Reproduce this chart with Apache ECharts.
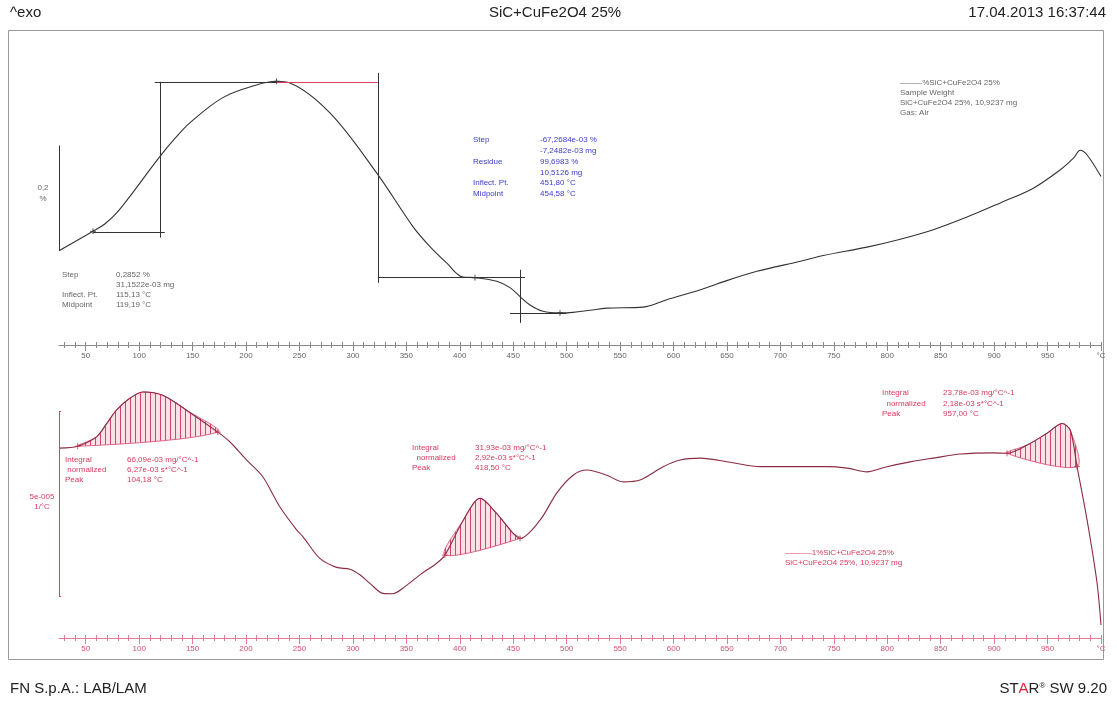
<!DOCTYPE html>
<html>
<head>
<meta charset="utf-8">
<title>SiC+CuFe2O4 25%</title>
<script src="https://cdn.jsdelivr.net/npm/echarts@6/dist/echarts.min.js"></script>
<style>
html, body { margin: 0; padding: 0; background: #fff; }
#chart { width: 1117px; height: 702px; }
</style>
</head>
<body>
<div id="chart"></div>
<script>
// upper curve: mass (%) vs temperature (°C)
const tgaTemp = [25, 56.8, 67.8, 79, 91.2, 105.2, 119.3, 133.3, 147.4, 178.3, 209.8, 228.6, 241, 278.5,
  322.2, 356.2, 372.1, 387.7, 403, 414.2, 434.6, 447, 456.4, 465.7,
  477.9, 493.8, 506, 521.9, 537.5, 571.6, 593.7, 625.3, 640.5, 678,
  718.7, 740.3, 781, 812.2, 843.1, 874.6, 905.8, 936.7, 962, 974.2,
  980.7, 987, 1000];
const tgaMass = [100.000, 100.037, 100.051, 100.072, 100.103, 100.141, 100.179, 100.213, 100.243, 100.291, 100.315, 100.322, 100.319, 100.262,
  100.148, 100.046, 100.008, 99.977, 99.950, 99.949, 99.942, 99.930, 99.913, 99.897,
  99.885, 99.882, 99.883, 99.887, 99.891, 99.893, 99.907, 99.926, 99.937, 99.961,
  99.980, 99.991, 100.007, 100.022, 100.040, 100.064, 100.091, 100.119, 100.154, 100.176,
  100.191, 100.182, 100.141];

// lower curve: DTG (1e-5 1/°C, relative to start)
const dtgTemp = [25.7, 42.5, 60, 69.4, 78.7, 91.2, 103.4, 122.1, 144.3, 173.6, 184.8, 200.5,
  215.7, 231.6, 247.3, 253.2, 269.1, 284.7, 297.2, 306.6, 315.9, 328.1,
  337.5, 346.8, 362.7, 378.4, 386.1, 403.3, 418.9, 434.5, 449.8, 456.4,
  475.1, 490.7, 506, 518.8, 537.5, 552.8, 568.7, 590.3, 606.2, 624.9,
  653, 681.1, 712, 743.5, 762.3, 781, 799.7, 821.5, 843.1, 868.4,
  899.3, 912.1, 930.8, 949.5, 963.6, 971.3, 977.6, 987, 996.3, 1000];
const dtgRate = [0.00, 0.05, 0.30, 0.65, 1.02, 1.34, 1.51, 1.42, 1.02, 0.43, 0.17, -0.32,
  -0.77, -1.58, -2.20, -2.38, -2.97, -3.21, -3.26, -3.41, -3.64, -3.91,
  -3.92, -3.77, -3.41, -3.10, -2.88, -1.94, -1.35, -1.76, -2.29, -2.43,
  -1.94, -1.21, -0.73, -0.59, -0.73, -0.91, -0.86, -0.50, -0.32, -0.27,
  -0.38, -0.50, -0.50, -0.50, -0.54, -0.64, -0.50, -0.37, -0.27, -0.16,
  -0.13, -0.14, 0.08, 0.40, 0.66, 0.48, -0.50, -1.94, -3.63, -4.76];

// integration limits of the three DTG peaks (°C)
const peakLimits = [[42.5, 173.6], [386.1, 456.4], [912.1, 977.6]];

// step evaluation lines on the mass curve [[T1, m1], [T2, m2]]
const stepLines = [
  [[56.8, 100.036], [124, 100.036]],
  [[119.3, 100.321], [119.3, 100.025]],
  [[114.6, 100.321], [228.8, 100.321]],
  [[323.4, 100.338], [323.4, 99.939]],
  [[323.4, 99.949], [461, 99.949]],
  [[456.4, 99.964], [456.4, 99.863]],
  [[447, 99.882], [500, 99.882]]
];
const stepRedLine = [[228.8, 100.321], [323.4, 100.321]];
const tgaMarks = [[56.8, 100.037], [228.6, 100.322], [414.2, 99.949], [493.8, 99.882]];

const tickLabels = [50, 100, 150, 200, 250, 300, 350, 400, 450, 500, 550, 600, 650, 700, 750, 800, 850, 900, 950, 1000];
const minorTicks = Array.from({ length: 98 }, (_, i) => 30 + i * 10);
const majorTicks = tickLabels;

const tMin = 25, tMax = 1000;
const gray = "#666";
const red = "#d8395e";
const dtgColor = "#8a2c44";
const small = '8px "Liberation Sans"';

const zip = (a, b) => a.map((v, i) => [v, b[i]]);
const tgaData = zip(tgaTemp, tgaMass);
const dtgData = zip(dtgTemp, dtgRate);

const hatch = document.createElement("canvas");
hatch.width = 5; hatch.height = 5;
const hc = hatch.getContext("2d");
hc.fillStyle = "#fbe1e8"; hc.fillRect(0, 0, 5, 5);
hc.fillStyle = "#d2456a"; hc.fillRect(0, 0, 1, 5);

function xAxes(gridIndex, lineColor, labelColor) {
  const base = { type: "value", gridIndex, min: tMin, max: tMax, position: "bottom", splitLine: { show: false } };
  return [
    {
      ...base,
      axisLine: { onZero: false, lineStyle: { color: lineColor, width: 1 } },
      axisTick: { customValues: minorTicks, inside: true, length: 3, lineStyle: { color: lineColor } },
      axisLabel: {
        customValues: tickLabels, color: labelColor, fontSize: 8, margin: 7,
        fontFamily: "Liberation Sans", formatter: (v) => (v === 1000 ? "°C" : String(v))
      }
    },
    {
      ...base,
      axisLine: { show: false, onZero: false },
      axisTick: { customValues: minorTicks, length: 3, lineStyle: { color: lineColor } },
      axisLabel: { show: false }
    },
    {
      ...base,
      axisLine: { show: false, onZero: false },
      axisTick: { customValues: majorTicks, length: 6, lineStyle: { color: lineColor } },
      axisLabel: { show: false }
    }
  ];
}

function seg(a, b, style) {
  return [style ? { coord: a, lineStyle: style } : { coord: a }, { coord: b }];
}

function txt(x, y, s, fill, align) {
  return {
    type: "text", x, y, silent: true,
    style: { text: s, fill, font: small, align: align || "left", verticalAlign: "middle" }
  };
}

function block(x1, x2, y0, dy, rows, fill) {
  const out = [];
  rows.forEach((r, i) => {
    if (r[0]) out.push(txt(x1, y0 + i * dy, r[0], fill));
    if (r[1]) out.push(txt(x2, y0 + i * dy, r[1], fill));
  });
  return out;
}

const graphics = [
  { type: "rect", silent: true, shape: { x: 8.5, y: 30.5, width: 1095, height: 629 }, style: { fill: "none", stroke: "#999", lineWidth: 1 } },
  { type: "text", x: 10, y: 13, style: { text: "^exo", font: '15px "Liberation Sans"', fill: "#222", verticalAlign: "middle" } },
  { type: "text", x: 555, y: 13, style: { text: "SiC+CuFe2O4 25%", font: '15px "Liberation Sans"', fill: "#222", align: "center", verticalAlign: "middle" } },
  { type: "text", x: 1106, y: 13, style: { text: "17.04.2013 16:37:44", font: '15px "Liberation Sans"', fill: "#222", align: "right", verticalAlign: "middle" } },
  { type: "text", x: 10, y: 689, style: { text: "FN S.p.A.: LAB/LAM", font: '15px "Liberation Sans"', fill: "#222", verticalAlign: "middle" } },
  {
    type: "text", x: 1107, y: 689,
    style: {
      text: "{a|ST}{r|A}{a|R}{s|®}{a| SW 9.20}", align: "right", verticalAlign: "middle",
      rich: {
        a: { font: '15px "Liberation Sans"', fill: "#222" },
        r: { font: '15px "Liberation Sans"', fill: "#d8233b" },
        s: { font: '8px "Liberation Sans"', fill: "#222", verticalAlign: "top" }
      }
    }
  },
  txt(43, 188, "0,2", gray, "center"),
  txt(43, 199, "%", gray, "center"),
  txt(42, 497, "5e-005", red, "center"),
  txt(42, 507, "1/°C", red, "center"),
  ...block(62, 116, 275, 10, [["Step", "0,2852 %"], ["", "31,1522e-03 mg"], ["Inflect. Pt.", "115,13 °C"], ["Midpoint", "119,19 °C"]], gray),
  ...block(473, 540, 140, 10.8, [["Step", "-67,2684e-03 %"], ["", "-7,2482e-03 mg"], ["Residue", "99,6983 %"], ["", "10,5126 mg"], ["Inflect. Pt.", "451,80 °C"], ["Midpoint", "454,58 °C"]], "#3b3bc4"),
  ...block(900, 900, 83, 10, [["‒‒‒‒‒%SiC+CuFe2O4 25%"], ["Sample Weight"], ["SiC+CuFe2O4 25%, 10,9237 mg"], ["Gas: Air"]], gray),
  ...block(65, 127, 460, 10, [["Integral", "66,09e-03 mg/°C^-1"], [" normalized", "6,27e-03 s*°C^-1"], ["Peak", "104,18 °C"]], red),
  ...block(412, 475, 448, 10, [["Integral", "31,93e-03 mg/°C^-1"], ["  normalized", "2,92e-03 s*°C^-1"], ["Peak", "418,50 °C"]], red),
  ...block(882, 943, 393, 10.5, [["Integral", "23,78e-03 mg/°C^-1"], ["  normalized", "2,18e-03 s*°C^-1"], ["Peak", "957,00 °C"]], red),
  ...block(785, 785, 553, 10, [["‒‒‒‒‒‒1%SiC+CuFe2O4 25%"], ["SiC+CuFe2O4 25%, 10,9237 mg"]], red)
];

const peakMarks = [];
peakLimits.forEach(([a, b]) => {
  dtgData.forEach((p) => { if (p[0] === a || p[0] === b) peakMarks.push(p); });
});

const cross = "path://M5,0L5,10M0,5L10,5";

const chart = echarts.init(document.getElementById("chart"));
chart.setOption({
  animation: false,
  backgroundColor: "#fff",
  grid: [
    { left: 59, right: 16, top: 45, height: 300 },
    { left: 59, right: 16, top: 360, height: 278 }
  ],
  xAxis: [...xAxes(0, "#8a8a8a", gray), ...xAxes(1, "#e57a95", "#d0506e")],
  yAxis: [
    { type: "value", gridIndex: 0, min: 99.821, max: 100.391, show: false },
    { type: "value", gridIndex: 1, min: -5.11, max: 2.37, show: false }
  ],
  graphic: graphics,
  series: [
    {
      name: "mass",
      type: "line",
      xAxisIndex: 0, yAxisIndex: 0,
      data: tgaData,
      smooth: 0.35,
      showSymbol: false,
      lineStyle: { color: "#333", width: 1.1 },
      markLine: {
        silent: true, symbol: "none", label: { show: false },
        lineStyle: { color: "#333", width: 1, type: "solid" },
        data: [
          ...stepLines.map((l) => seg(l[0], l[1])),
          seg(stepRedLine[0], stepRedLine[1], { color: "#e0405f", width: 1, type: "solid" }),
          seg([25, 100], [25, 100.2])
        ]
      }
    },
    {
      name: "mass marks",
      type: "scatter",
      xAxisIndex: 0, yAxisIndex: 0,
      data: tgaMarks,
      symbol: cross, symbolSize: 6,
      itemStyle: { color: "none", borderColor: "#333", borderWidth: 1 }
    },
    {
      name: "peak fill",
      type: "custom",
      xAxisIndex: 3, yAxisIndex: 1,
      data: peakLimits.map((l) => [l[0], 0]),
      renderItem: (params, api) => {
        const [a, b] = peakLimits[params.dataIndex];
        const pts = dtgData.filter((p) => p[0] >= a && p[0] <= b).map((p) => api.coord(p));
        return {
          type: "polygon",
          shape: { points: pts, smooth: 0.3 },
          style: { fill: { image: hatch, repeat: "repeat" }, stroke: "#d2456a", lineWidth: 0.8 }
        };
      },
      silent: true,
      z: 1
    },
    {
      name: "dtg",
      type: "line",
      xAxisIndex: 3, yAxisIndex: 1,
      data: dtgData,
      smooth: 0.3,
      showSymbol: false,
      lineStyle: { color: dtgColor, width: 1.1 },
      z: 3,
      markLine: {
        silent: true, symbol: "none", label: { show: false },
        lineStyle: { color: "#d2456a", width: 1, type: "solid" },
        data: [seg([25, 1], [25, -4]), seg([25, 1], [27, 1]), seg([25, -4], [27, -4])]
      }
    },
    {
      name: "dtg marks",
      type: "scatter",
      xAxisIndex: 3, yAxisIndex: 1,
      data: peakMarks,
      symbol: cross, symbolSize: 6,
      itemStyle: { color: "none", borderColor: "#c8304f", borderWidth: 1 },
      z: 4
    }
  ]
});
</script>
</body>
</html>
